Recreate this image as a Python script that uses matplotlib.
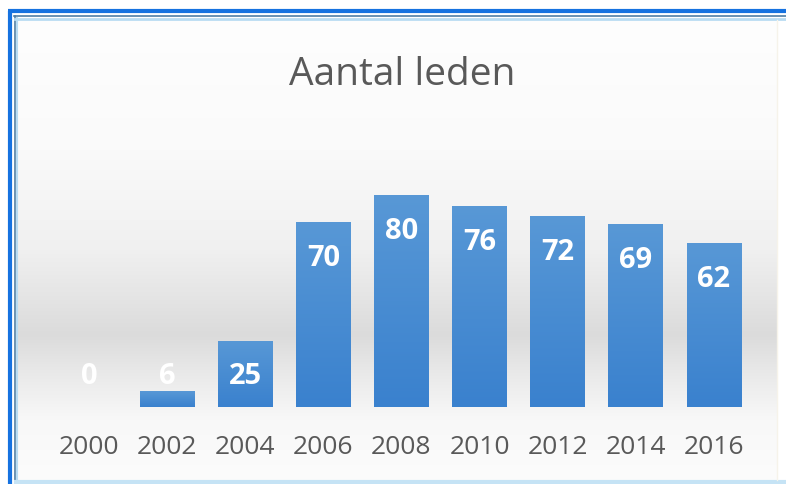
import numpy as np
import matplotlib.pyplot as plt

# ----------------------------------------------------
# DATA

years = ['2000', '2002', '2004', '2006', '2008', '2010', '2012', '2014', '2016']
leden = [0, 6, 25, 70, 80, 76, 72, 69, 62]
title = 'Aantal leden'

# ----------------------------------------------------
# FIGURE + BACKGROUND

W, H = 786, 484
fig = plt.figure(figsize=(W / 100, H / 100), dpi=100)
fig.patch.set_facecolor('white')

bg = fig.add_axes([0, 0, 1, 1])
bg.set_xlim(0, W)
bg.set_ylim(H, 0)
bg.axis('off')

# vertical grey band behind the bars (Excel style gradient)
ys = np.arange(20, 481)
stops_y = [20, 150, 250, 300, 335, 370, 420, 480]
stops_v = [254, 250, 240, 228, 219, 232, 248, 252]
grey = np.interp(ys, stops_y, stops_v) / 255.0
grad = np.repeat(grey[:, None], 3, axis=1)[:, None, :]
bg.imshow(grad, extent=(16, 777, 480, 20), aspect='auto', zorder=0)

# frame lines
bg.plot([8, W], [11, 11], color='#1672e0', lw=3, solid_capstyle='butt')
bg.plot([10, 10], [11, H], color='#1672e0', lw=3, solid_capstyle='butt')
bg.plot([14, W], [16, 16], color='#4f7ea6', lw=1.2)
bg.plot([14.5, 14.5], [16, H], color='#4f7ea6', lw=1.2)
bg.plot([15, W], [18.5, 18.5], color='#b9dcf2', lw=2)
bg.plot([16.5, 16.5], [18, H], color='#b9dcf2', lw=1.5)
bg.plot([16, W], [482, 482], color='#c5e3f5', lw=3)
bg.plot([777, 777], [20, 480], color='#f6f3ea', lw=1)

fig.text(402 / W, 1 - 75 / H, title, ha='center', va='center',
         fontsize=28, color='#595959', family='Open Sans')

# ----------------------------------------------------
# BARS

ax = fig.add_axes([50 / W, 77 / H, 703 / W, 265 / H])
ax.set_facecolor('none')
for s in ax.spines.values():
    s.set_visible(False)

x = np.arange(len(years))
bars = ax.bar(x, leden, width=0.7, color='none', edgecolor='none')

bar_grad = np.linspace(0, 1, 100)[:, None]
top_c = np.array([0.345, 0.596, 0.839])
bot_c = np.array([0.227, 0.506, 0.808])
bar_img = (top_c * (1 - bar_grad)[:, :, None] + bot_c * bar_grad[:, :, None])

for b in bars:
    h = b.get_height()
    if h <= 0:
        continue
    bx, bw = b.get_x(), b.get_width()
    im = ax.imshow(bar_img, extent=(bx, bx + bw, 0, h), aspect='auto', zorder=2)
    im.set_clip_path(b)

ax.set_xlim(-0.5, len(years) - 0.5)
ax.set_ylim(0, 100)

# labels sit inside the bar top, small bars get them just above the base
for xi, v in zip(x, leden):
    ax.text(xi, max(v - 13.8, 11.5), str(v), ha='center', va='center',
            color='white', fontsize=21, fontweight='bold', family='Open Sans', zorder=3)

ax.set_yticks([])
ax.set_xticks(x)
ax.set_xticklabels(years, fontsize=19, color='#595959', family='Open Sans')
ax.tick_params(axis='x', length=0, pad=20)

fig.savefig('out.png', dpi=100, facecolor='white')
